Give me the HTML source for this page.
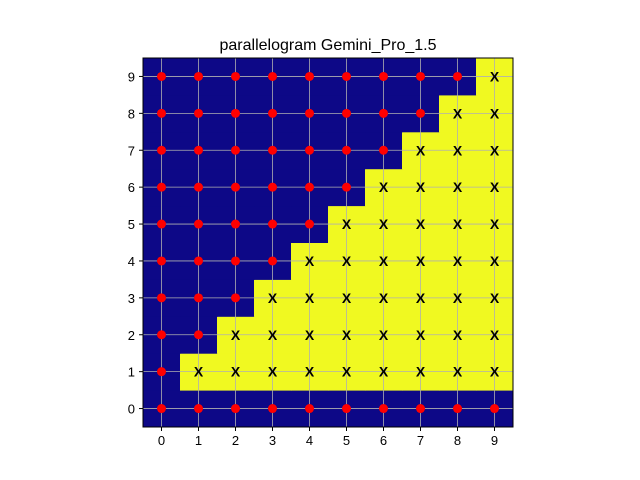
<!DOCTYPE html>
<html><head><meta charset="utf-8"><style>
body{margin:0;background:#fff}
svg{display:block;font-family:"Liberation Sans","DejaVu Sans",sans-serif}
</style></head><body>
<svg id="chart" width="640" height="480">
<text x="328" y="50" text-anchor="middle" font-size="16">parallelogram Gemini_Pro_1.5</text>
<g id="cells"></g>
<g id="grid"></g>
<g id="marks"></g>
<rect x="143" y="58" width="370" height="369" fill="none" stroke="#000" stroke-width="1"/>
<g id="ticks"></g>
</svg>
<script>
const xCategories=[0,1,2,3,4,5,6,7,8,9];
const yCategories=[0,1,2,3,4,5,6,7,8,9];
// grid values by row y=0..9 (1 = inside shape / yellow X, 0 = outside / red dot)
const row0=[0,0,0,0,0,0,0,0,0,0];
const row1=[0,1,1,1,1,1,1,1,1,1];
const row2=[0,0,1,1,1,1,1,1,1,1];
const row3=[0,0,0,1,1,1,1,1,1,1];
const row4=[0,0,0,0,1,1,1,1,1,1];
const row5=[0,0,0,0,0,1,1,1,1,1];
const row6=[0,0,0,0,0,0,1,1,1,1];
const row7=[0,0,0,0,0,0,0,1,1,1];
const row8=[0,0,0,0,0,0,0,0,1,1];
const row9=[0,0,0,0,0,0,0,0,0,1];
const rows=[row0,row1,row2,row3,row4,row5,row6,row7,row8,row9];
const NS="http://www.w3.org/2000/svg";
const L=143,R=513,T=58,B=427;
const cw=(R-L)/xCategories.length, ch=(B-T)/yCategories.length;
const sx=v=>L+cw*(v+0.5), sy=v=>B-ch*(v+0.5);
function mk(tag,attrs,parent){const e=document.createElementNS(NS,tag);for(const k in attrs)e.setAttribute(k,attrs[k]);document.getElementById(parent).appendChild(e);return e;}
rows.forEach((row,y)=>row.forEach((v,x)=>{
 const r=mk('rect',{x:sx(x)-cw/2,y:sy(y)-ch/2,width:cw+0.5,height:ch+0.5,fill:v?'#f0f921':'#0d0887'},'cells');
 
 
}));
xCategories.forEach(x=>{
 const l=mk('line',{x1:sx(x),x2:sx(x),y1:T,y2:B,stroke:'#b0b0b0','stroke-width':0.8},'grid');
 
 
 const t=mk('line',{x1:sx(x),x2:sx(x),y1:B,y2:B+4,stroke:'#000'},'ticks');
 
 
 const tx=mk('text',{x:sx(x),y:B+18,'text-anchor':'middle','font-size':13},'ticks');tx.textContent=x;
 
 
});
yCategories.forEach(y=>{
 const l=mk('line',{x1:L,x2:R,y1:sy(y),y2:sy(y),stroke:'#b0b0b0','stroke-width':0.8},'grid');
 
 
 const t=mk('line',{x1:L-4,x2:L,y1:sy(y),y2:sy(y),stroke:'#000'},'ticks');
 
 
 const tx=mk('text',{x:L-8,y:sy(y)+5,'text-anchor':'end','font-size':13},'ticks');tx.textContent=y;
 
 
});
rows.forEach((row,y)=>row.forEach((v,x)=>{
 if(v){
  const t=mk('text',{x:sx(x),y:sy(y)+5,'text-anchor':'middle','font-size':14,'font-weight':'bold',fill:'#000'},'marks');t.textContent='X';
  
  
 }else{
  const c=mk('circle',{cx:sx(x),cy:sy(y),r:4.5,fill:'#ff0000'},'marks');
  
  
 }
}));
</script>
</body></html>
